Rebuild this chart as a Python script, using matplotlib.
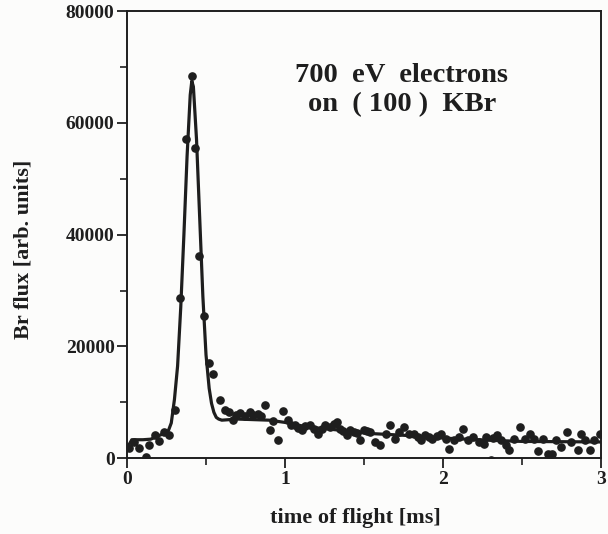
import numpy as np
import matplotlib.pyplot as plt
from matplotlib.ticker import MultipleLocator

# measured points: time of flight [ms] and Br flux [arb. units]
tof = [0.013, 0.045, 0.076, 0.119, 0.14, 0.178, 0.204, 0.236, 0.268, 0.306,
       0.336, 0.374, 0.41, 0.431, 0.454, 0.486, 0.518, 0.545, 0.586, 0.618,
       0.645, 0.668, 0.69, 0.713, 0.745, 0.777, 0.80, 0.83, 0.851, 0.873,
       0.904, 0.926, 0.958, 0.985, 1.02, 1.04, 1.064, 1.085, 1.106, 1.13,
       1.159, 1.185, 1.212, 1.235, 1.255, 1.287, 1.31, 1.329, 1.35, 1.37,
       1.393, 1.415, 1.435, 1.455, 1.478, 1.50, 1.52, 1.541, 1.573, 1.605,
       1.637, 1.665, 1.70, 1.72, 1.754, 1.785, 1.817, 1.84, 1.86, 1.89,
       1.91, 1.934, 1.96, 1.987, 2.02, 2.04, 2.07, 2.10, 2.125, 2.157,
       2.19, 2.23, 2.26, 2.275, 2.306, 2.32, 2.34, 2.37, 2.40, 2.42,
       2.45, 2.486, 2.518, 2.55, 2.58, 2.60, 2.635, 2.667, 2.69, 2.72,
       2.75, 2.785, 2.815, 2.858, 2.875, 2.90, 2.93, 2.96, 2.998]
flux = [1740, 2920, 1900, 230, 2330, 4120, 3100, 4700, 4120, 8600,
        28600, 57200, 68400, 55600, 36200, 25400, 17000, 15000, 10400, 8600,
        8300, 6900, 7700, 8000, 7600, 8300, 7700, 7900, 7500, 9500,
        5000, 6600, 3300, 8500, 6900, 6000, 5900, 5400, 5000, 5700,
        5900, 5200, 4400, 5300, 5900, 5600, 6200, 6500, 5300, 4900,
        4100, 5000, 4700, 4500, 3200, 5000, 4900, 4700, 2900, 2300,
        4400, 6000, 3500, 4700, 5600, 4400, 4400, 3800, 3200, 4100,
        3800, 3500, 3900, 4400, 3500, 1600, 3200, 3800, 5300, 3200,
        3800, 2900, 2600, 3800, -350, 3600, 4100, 3200, 2300, 1400,
        3500, 5600, 3500, 4400, 3500, 1300, 3500, 700, 700, 3200,
        2000, 4600, 2900, 1400, 4400, 3200, 1400, 3200, 4400]

# fitted curve
fit_t = [0.0, 0.03, 0.10, 0.15, 0.20, 0.26, 0.28, 0.30, 0.32, 0.34,
         0.36, 0.38, 0.40, 0.41, 0.42, 0.44, 0.46, 0.48, 0.50, 0.52,
         0.535, 0.55, 0.565, 0.58, 0.60, 0.70, 0.80, 0.90, 1.0, 1.14,
         1.35, 1.55, 1.75, 2.0, 2.3, 2.5, 3.0]
fit_flux = [1800, 3300, 3300, 3400, 4000, 4800, 6300, 10500, 16500, 27000,
            40000, 54000, 65000, 67500, 66500, 57000, 43000, 29000, 18500, 12500,
            9800, 8200, 7300, 7000, 6800, 7000, 6900, 6800, 6400, 5600,
            5000, 4400, 4100, 3600, 3200, 3000, 2900]

plt.rcParams['font.family'] = ['Liberation Serif', 'DejaVu Serif']

fig = plt.figure(figsize=(6.08, 5.34), dpi=100, facecolor='#fcfcfb')
ax = fig.add_axes([0.209, 0.142, 0.779, 0.837])
ax.set_facecolor('#fcfcfb')

ax.plot(fit_t, fit_flux, color='#1e1e1e', linewidth=2.3, zorder=2)
ax.plot(tof, flux, 'o', color='#1e1e1e', markersize=5.2, zorder=3)

ax.set_xlim(0, 3)
ax.set_ylim(0, 80000)
ax.xaxis.set_major_locator(MultipleLocator(1))
ax.xaxis.set_minor_locator(MultipleLocator(0.5))
ax.yaxis.set_major_locator(MultipleLocator(20000))
ax.yaxis.set_minor_locator(MultipleLocator(10000))
ax.tick_params(which='major', direction='out', length=7, width=1.3,
               labelsize=14, pad=2, colors='#1e1e1e')
ax.tick_params(which='minor', direction='out', length=5, width=1.2,
               colors='#1e1e1e')
for lab in ax.get_xticklabels() + ax.get_yticklabels():
    lab.set_fontweight('bold')
for sp in ax.spines.values():
    sp.set_linewidth(1.4)
    sp.set_color('#1e1e1e')

ax.set_xlabel('time of flight [ms]', fontsize=16, fontweight='bold',
              color='#1e1e1e')
ax.set_ylabel('Br flux [arb. units]', fontsize=16, fontweight='bold',
              color='#1e1e1e')
ax.xaxis.set_label_coords(0.483, -0.112)
ax.yaxis.set_label_coords(-0.197, 0.468)

ax.text(0.58, 0.823, '700  eV  electrons\non  ( 100 )  KBr', transform=ax.transAxes,
        ha='center', va='center', fontsize=20.5, fontweight='bold',
        linespacing=1.2, color='#1e1e1e')

plt.savefig('out.png', dpi=100, facecolor=fig.get_facecolor())
